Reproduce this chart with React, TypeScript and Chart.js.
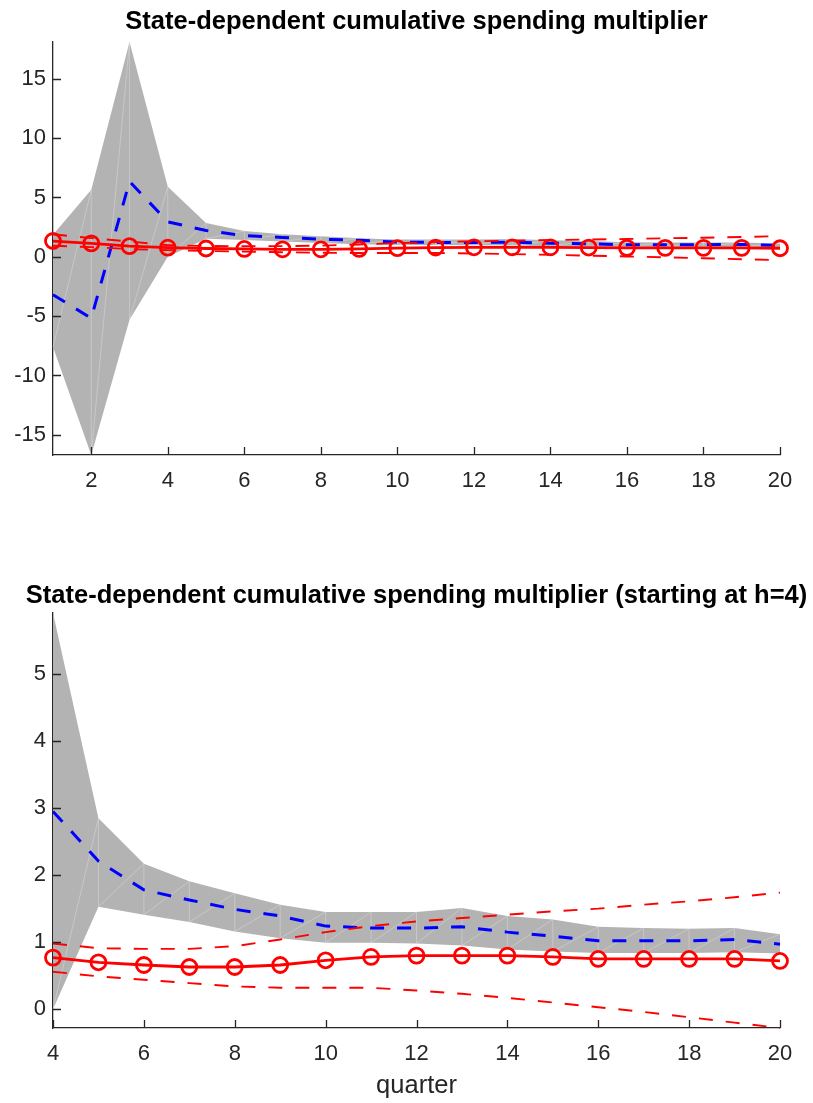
import { useEffect, useRef } from "react"
import { Chart, registerables } from "chart.js"

Chart.register(...registerables)

// horizon (quarters) and the estimates
const quarters = [1, 2, 3, 4, 5, 6, 7, 8, 9, 10, 11, 12, 13, 14, 15, 16, 17, 18, 19, 20]
const bandUpper = [1.85, 5.65, 18.1, 5.91, 2.85, 2.17, 1.91, 1.73, 1.56, 1.45, 1.45, 1.45, 1.51, 1.39, 1.34, 1.23, 1.21, 1.2, 1.21, 1.12]
const bandLower = [-7.6, -16.7, -5.3, 0.0, 1.53, 1.41, 1.3, 1.16, 1.06, 0.99, 0.99, 0.98, 0.95, 0.89, 0.86, 0.84, 0.84, 0.84, 0.85, 0.83]
const blueMultiplier = [-3.2, -5.17, 6.35, 2.95, 2.21, 1.78, 1.63, 1.49, 1.39, 1.24, 1.21, 1.21, 1.23, 1.15, 1.09, 1.02, 1.02, 1.02, 1.04, 0.97]
const redMultiplier = [1.33, 1.13, 0.9, 0.77, 0.7, 0.66, 0.63, 0.63, 0.66, 0.73, 0.78, 0.8, 0.8, 0.8, 0.78, 0.75, 0.75, 0.75, 0.75, 0.72]
const redUpper = [1.9, 1.57, 1.29, 0.98, 0.91, 0.9, 0.9, 0.94, 1.04, 1.15, 1.24, 1.31, 1.36, 1.41, 1.46, 1.5, 1.56, 1.61, 1.67, 1.74]
const redLower = [0.93, 0.82, 0.65, 0.56, 0.49, 0.44, 0.39, 0.34, 0.32, 0.32, 0.32, 0.28, 0.23, 0.17, 0.1, 0.03, -0.04, -0.12, -0.2, -0.28]

const topXTicks = [2, 4, 6, 8, 10, 12, 14, 16, 18, 20]
const topYTicks = [-15, -10, -5, 0, 5, 10, 15]
const bottomXTicks = [4, 6, 8, 10, 12, 14, 16, 18, 20]
const bottomYTicks = [0, 1, 2, 3, 4, 5]

const AXIS = "#262626"
const FONT = '"Liberation Sans", Arial, Helvetica, sans-serif'

Chart.defaults.font.family = FONT

const matlabAxes = {
  id: "matlabAxes",
  // light mesh edges inside the shaded band
  afterDatasetDraw(chart: any, args: any) {
    if (args.index !== 0) return
    const up = chart.data.datasets[0].data as any[]
    const lo = chart.data.datasets[1].data as any[]
    const { ctx, scales } = chart
    const x = scales.x
    const y = scales.y
    ctx.save()
    ctx.strokeStyle = "rgba(222,222,222,0.8)"
    ctx.lineWidth = 0.6
    ctx.beginPath()
    for (let i = 0; i < up.length; i++) {
      const px = x.getPixelForValue(up[i].x)
      if (i > 0 && i < up.length - 1) {
        ctx.moveTo(px, y.getPixelForValue(lo[i].y))
        ctx.lineTo(px, y.getPixelForValue(up[i].y))
      }
      if (i + 1 < up.length) {
        ctx.moveTo(px, y.getPixelForValue(lo[i].y))
        ctx.lineTo(x.getPixelForValue(up[i + 1].x), y.getPixelForValue(up[i + 1].y))
      }
    }
    ctx.stroke()
    ctx.restore()
  },
  afterDraw(chart: any, _args: any, opts: any) {
    const { ctx, chartArea, scales } = chart
    ctx.save()
    // inward tick marks
    ctx.strokeStyle = AXIS
    ctx.lineWidth = 1.3
    ctx.beginPath()
    for (const t of scales.x.ticks) {
      const px = Math.round(scales.x.getPixelForValue(t.value)) + 0.5
      ctx.moveTo(px, chartArea.bottom)
      ctx.lineTo(px, chartArea.bottom - 8)
    }
    for (const t of scales.y.ticks) {
      const py = Math.round(scales.y.getPixelForValue(t.value)) + 0.5
      ctx.moveTo(chartArea.left, py)
      ctx.lineTo(chartArea.left + 8, py)
    }
    ctx.stroke()
    const cx = (chartArea.left + chartArea.right) / 2
    ctx.textAlign = "center"
    ctx.textBaseline = "alphabetic"
    ctx.fillStyle = "#000"
    ctx.font = `bold 25.5px ${FONT}`
    ctx.fillText(opts.title, cx, opts.titleY)
    if (opts.xLabel) {
      ctx.fillStyle = AXIS
      ctx.font = `25.5px ${FONT}`
      ctx.fillText(opts.xLabel, cx, opts.xLabelY)
    }
    ctx.restore()
  },
}

interface PanelProps {
  title: string
  xLabel?: string
  start: number
  xTicks: number[]
  yTicks: number[]
  top: number
  height: number
  plotTop: number
  plotBottom: number
  titleY: number
  xLabelY?: number
}

function MultiplierPanel(props: PanelProps) {
  const chartRef = useRef<HTMLCanvasElement>(null)
  const chartInstance = useRef<Chart | null>(null)

  useEffect(() => {
    if (!chartRef.current) return
    if (chartInstance.current) chartInstance.current.destroy()

    const s = props.start
    const q = quarters.slice(s)
    const pts = (arr: number[]) => arr.slice(s).map((v, i) => ({ x: q[i], y: v }))
    // tight limits, as with "axis tight"
    const all = [bandUpper, bandLower, blueMultiplier, redMultiplier, redUpper, redLower].flatMap((a) => a.slice(s))
    const yMin = Math.min(...all)
    const yMax = Math.max(...all)

    const ctx = chartRef.current.getContext("2d")
    if (!ctx) return
    chartInstance.current = new Chart(ctx, {
      type: "line",
      data: {
        datasets: [
          {
            data: pts(bandUpper),
            borderWidth: 0,
            pointRadius: 0,
            backgroundColor: "#b3b3b3",
            fill: "+1",
            order: 5,
          },
          {
            data: pts(bandLower),
            borderWidth: 0,
            pointRadius: 0,
            fill: false,
            order: 5,
          },
          {
            data: pts(blueMultiplier),
            borderColor: "#0000ff",
            borderWidth: 3,
            borderDash: [14, 13],
            pointRadius: 0,
            fill: false,
            order: 3,
            clip: false,
          },
          {
            data: pts(redLower),
            borderColor: "#ff0000",
            borderWidth: 1.9,
            borderDash: [14, 13],
            pointRadius: 0,
            fill: false,
            order: 2,
            clip: false,
          },
          {
            data: pts(redUpper),
            borderColor: "#ff0000",
            borderWidth: 1.9,
            borderDash: [14, 13],
            pointRadius: 0,
            fill: false,
            order: 2,
            clip: false,
          },
          {
            data: pts(redMultiplier),
            borderColor: "#ff0000",
            borderWidth: 2.8,
            pointRadius: 7.5,
            pointBorderWidth: 2.8,
            pointBorderColor: "#ff0000",
            pointBackgroundColor: "rgba(0,0,0,0)",
            fill: false,
            order: 1,
            clip: false,
          },
        ],
      },
      options: {
        responsive: false,
        animation: false,
        layout: {
          padding: { left: 0, right: 33, top: props.plotTop, bottom: props.height - props.plotBottom - 40 },
        },
        elements: { line: { tension: 0 } },
        scales: {
          x: {
            type: "linear",
            min: quarters[s],
            max: quarters[quarters.length - 1],
            grid: { display: false, drawTicks: false },
            border: { display: true, color: AXIS, width: 1.3 },
            ticks: { color: AXIS, font: { size: 22 }, padding: 13, autoSkip: false, maxRotation: 0 },
            afterBuildTicks: (scale: any) => {
              scale.ticks = props.xTicks.map((v) => ({ value: v }))
            },
            afterFit: (scale: any) => {
              scale.height = 40
            },
          },
          y: {
            type: "linear",
            min: yMin,
            max: yMax,
            grid: { display: false, drawTicks: false },
            border: { display: true, color: AXIS, width: 1.3 },
            ticks: { color: AXIS, font: { size: 22 }, padding: 7 },
            afterBuildTicks: (scale: any) => {
              scale.ticks = props.yTicks.map((v) => ({ value: v }))
            },
            afterFit: (scale: any) => {
              scale.width = 53
            },
          },
        },
        plugins: {
          legend: { display: false },
          tooltip: { enabled: false },
          filler: { drawTime: "beforeDatasetDraw" },
          matlabAxes: {
            title: props.title,
            titleY: props.titleY,
            xLabel: props.xLabel,
            xLabelY: props.xLabelY,
          },
        } as any,
      },
      plugins: [matlabAxes],
    })

    return () => {
      if (chartInstance.current) {
        chartInstance.current.destroy()
        chartInstance.current = null
      }
    }
  }, [props])

  return (
    <div style={{ position: "absolute", left: 0, top: props.top, width: 813, height: props.height }}>
      <canvas ref={chartRef} width={813} height={props.height} />
    </div>
  )
}

export default function App() {
  return (
    <div style={{ position: "absolute", left: 0, top: 0, width: 813, height: 1103, background: "#fff", overflow: "hidden" }}>
      <MultiplierPanel
        title="State-dependent cumulative spending multiplier"
        start={0}
        xTicks={topXTicks}
        yTicks={topYTicks}
        top={0}
        height={530}
        plotTop={42}
        plotBottom={455}
        titleY={29}
      />
      <MultiplierPanel
        title="State-dependent cumulative spending multiplier (starting at h=4)"
        xLabel="quarter"
        start={3}
        xTicks={bottomXTicks}
        yTicks={bottomYTicks}
        top={530}
        height={573}
        plotTop={83}
        plotBottom={498}
        titleY={73}
        xLabelY={563}
      />
    </div>
  )
}
